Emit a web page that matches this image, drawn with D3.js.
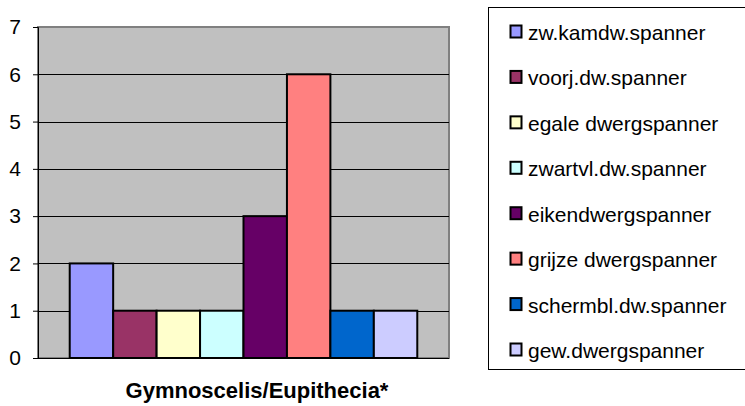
<!DOCTYPE html>
<html>
<head>
<meta charset="utf-8">
<script src="https://cdn.jsdelivr.net/npm/d3@7"></script>
<style>
  body { margin: 0; background: #fff; }
  svg { display: block; font-family: Arial, "Liberation Sans", sans-serif; }
</style>
</head>
<body>
<svg id="chart" width="745" height="406"></svg>
<script>
const species = ["zw.kamdw.spanner", "voorj.dw.spanner", "egale dwergspanner", "zwartvl.dw.spanner",
  "eikendwergspanner", "grijze dwergspanner", "schermbl.dw.spanner", "gew.dwergspanner"]
const counts = [2, 1, 1, 1, 3, 6, 1, 1]
const colors = ["#9999ff", "#993366", "#ffffcc", "#ccffff", "#660066", "#ff8080", "#0066cc", "#ccccff"]
const yTicks = [0, 1, 2, 3, 4, 5, 6, 7]
const groupLabel = "Gymnoscelis/Eupithecia*"

const svg = d3.select("#chart")
const plot = { left: 38, top: 27, right: 449, bottom: 358 }

const x = d3.scaleBand().domain(species).range([plot.left, plot.right]).paddingInner(0).paddingOuter(0.73)
const y = d3.scaleLinear().domain([0, 7]).range([plot.bottom, plot.top])

// plot background
svg.append("rect")
  .attr("x", plot.left).attr("y", plot.top)
  .attr("width", plot.right - plot.left).attr("height", plot.bottom - plot.top)
  .attr("fill", "#c0c0c0").attr("stroke", "#808080").attr("stroke-width", 2)

// gridlines
svg.append("g").selectAll("line").data(yTicks.filter(d => d > 0 && d < 7)).join("line")
  .attr("x1", plot.left).attr("x2", plot.right)
  .attr("y1", d => Math.round(y(d)) + 0.5).attr("y2", d => Math.round(y(d)) + 0.5)
  .attr("stroke", "#000").attr("stroke-width", 1)

// y axis
const yAxis = svg.append("g").attr("transform", `translate(${plot.left},0)`)
  .call(d3.axisLeft(y).tickValues(yTicks).tickSize(5).tickPadding(12).tickFormat(d3.format("d")))
yAxis.select(".domain").attr("stroke", "#000")
yAxis.selectAll(".tick line").attr("stroke", "#000")
yAxis.selectAll(".tick text").attr("font-size", 21).attr("fill", "#000")
  .attr("font-family", "Arial, 'Liberation Sans', sans-serif")

// bottom axis line
svg.append("line")
  .attr("x1", plot.left).attr("x2", plot.right)
  .attr("y1", plot.bottom + 0.5).attr("y2", plot.bottom + 0.5)
  .attr("stroke", "#000")

// bars
svg.append("g").selectAll("rect").data(species).join("rect")
  .attr("x", d => x(d))
  .attr("y", (d, i) => y(counts[i]))
  .attr("width", x.bandwidth())
  .attr("height", (d, i) => y(0) - y(counts[i]))
  .attr("fill", (d, i) => colors[i])
  .attr("stroke", "#000").attr("stroke-width", 2)

// category label
svg.append("text")
  .attr("x", 257).attr("y", 398)
  .attr("text-anchor", "middle").attr("font-size", 22).attr("font-weight", "bold")
  .text(groupLabel)

// legend
const legend = svg.append("g")
legend.append("rect")
  .attr("x", 488.5).attr("y", 7.5).attr("width", 262).attr("height", 362)
  .attr("fill", "#fff").attr("stroke", "#000")

const ly = d3.scalePoint().domain(species).range([32, 350])
const item = legend.selectAll("g.item").data(species).join("g").attr("class", "item")
  .attr("transform", d => `translate(0,${ly(d)})`)
item.append("rect")
  .attr("x", 510.5).attr("y", -6.5).attr("width", 11).attr("height", 12)
  .attr("fill", (d, i) => colors[i]).attr("stroke", "#000").attr("stroke-width", 2)
item.append("text")
  .attr("x", 528).attr("y", 8).attr("font-size", 21).text(d => d)
</script>
</body>
</html>
